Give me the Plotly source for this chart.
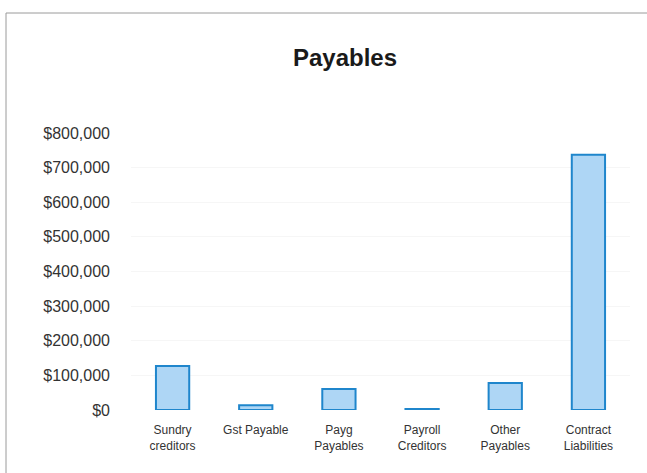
import plotly.graph_objects as go

categories = ["Sundry<br>creditors", "Gst Payable", "Payg<br>Payables",
              "Payroll<br>Creditors", "Other<br>Payables", "Contract<br>Liabilities"]
values = [127000, 14000, 61000, 3000, 78000, 737000]
tick_vals = [0, 100000, 200000, 300000, 400000, 500000, 600000, 700000, 800000]
tick_text = ["$0", "$100,000", "$200,000", "$300,000", "$400,000",
             "$500,000", "$600,000", "$700,000", "$800,000"]

fig = go.Figure(go.Bar(
    x=categories,
    y=values,
    marker=dict(color="#aed6f5", line=dict(color="#1f86cc", width=2)),
    width=0.4,
))

L, R, T, B = 131, 17, 133, 63
W, H = 647, 473
pw, ph = W - L - R, H - T - B

fig.update_layout(
    width=W, height=H,
    margin=dict(l=L, r=R, t=T, b=B),
    paper_bgcolor="white",
    plot_bgcolor="white",
    font=dict(family="Liberation Sans, Arial, sans-serif", color="#333333"),
    title=dict(text="<b>Payables</b>", x=345 / W, xanchor="center",
               y=1 - 58 / H, yanchor="middle",
               font=dict(size=24, color="#1a1a1a")),
    showlegend=False,
    xaxis=dict(showline=False, showgrid=False, ticks="", ticklabelstandoff=11,
               tickfont=dict(size=12, color="#333333")),
    yaxis=dict(range=[0, 800000], tickvals=tick_vals, ticktext=tick_text,
               showgrid=True, gridcolor="#f6f6f6", zeroline=False,
               showline=False, ticks="", ticklabelstandoff=20,
               tickfont=dict(size=16, color="#333333")),
    shapes=[dict(type="rect", xref="paper", yref="paper",
                 x0=(6 - L) / pw, x1=(652 - L) / pw,
                 y0=(H - B - 480) / ph, y1=(H - B - 13) / ph,
                 line=dict(color="#9a9a9a", width=1), layer="below")],
)

fig.write_html("out.html")
